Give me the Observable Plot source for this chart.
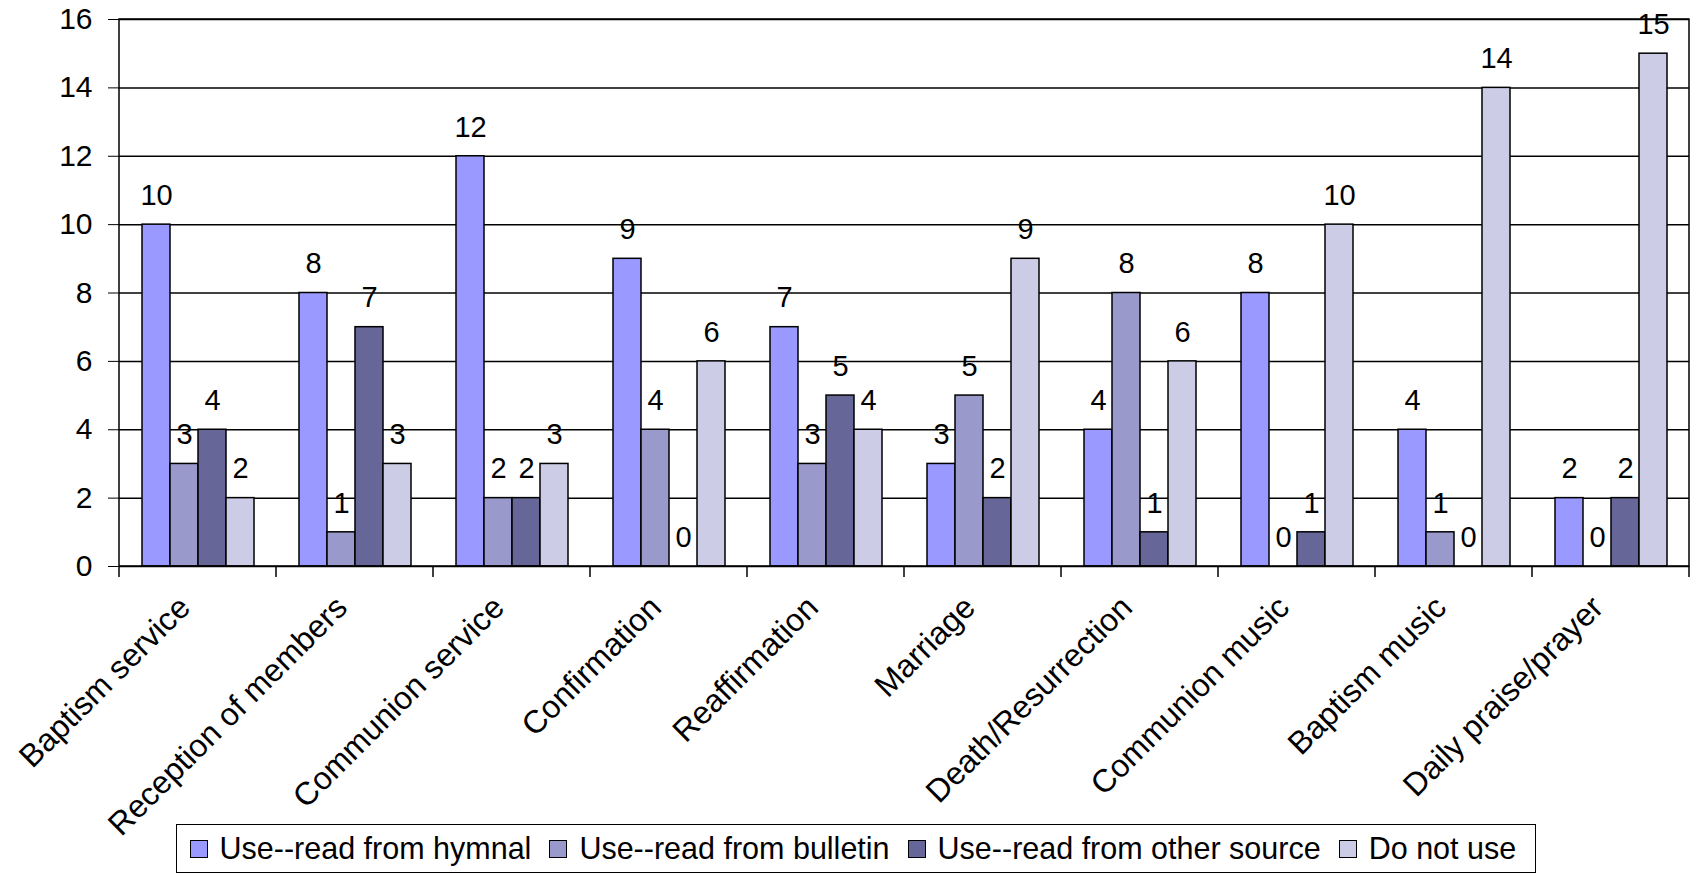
<!DOCTYPE html>
<html><head><meta charset="utf-8">
<script src="https://cdn.jsdelivr.net/npm/d3@7"></script>
<script src="https://cdn.jsdelivr.net/npm/@observablehq/plot@0.6"></script>
<style>
body{margin:0;background:#fff;font-family:"Liberation Sans",Arial,sans-serif;}
#wrap{position:relative;width:1698px;height:876px;overflow:hidden;}
#legend{position:absolute;left:176px;top:824px;width:1360px;height:49px;border:1.5px solid #000;display:flex;align-items:center;padding:0 0 0 12.5px;font-size:30.5px;box-sizing:border-box;background:#fff;color:#000;white-space:nowrap}
.sw{width:18px;height:18px;border:1.5px solid #000;margin-right:12px;box-sizing:border-box;flex:none}
.item{display:flex;align-items:center;margin-right:18px}
</style></head><body><div id="wrap"></div>
<script>
const categories = ["Baptism service","Reception of members","Communion service","Confirmation","Reaffirmation","Marriage","Death/Resurrection","Communion music","Baptism music","Daily praise/prayer"];
const series = ["Use--read from hymnal","Use--read from bulletin","Use--read from other source","Do not use"];
const hymnal   = [10, 8, 12, 9, 7, 3, 4, 8, 4, 2];
const bulletin = [ 3, 1,  2, 4, 3, 5, 8, 0, 1, 0];
const other    = [ 4, 7,  2, 0, 5, 2, 1, 1, 0, 2];
const notUse   = [ 2, 3,  3, 6, 4, 9, 6,10,14,15];
const colors = ["#9999ff","#9999cc","#666699","#cccce6"];
const yTicks = [0,2,4,6,8,10,12,14,16];

const seriesValues = [hymnal, bulletin, other, notUse];
const rows = categories.flatMap((c,i)=> series.map((s,j)=>({category:c, series:s, value:seriesValues[j][i]})));

const plot = Plot.plot({
  width:1698, height:876, marginLeft:115, marginRight:5, marginTop:19, marginBottom:310,
  style:{fontFamily:"Liberation Sans, Arial, sans-serif", fontSize:"30px", color:"#000", background:"#fff", overflow:"visible"},
  fx:{domain:categories, padding:0, label:null, axis:null},
  x:{domain:series, axis:null, paddingInner:0, paddingOuter:0.76},
  y:{domain:[0,16], ticks:yTicks, tickSize:11, tickPadding:16, label:null},
  color:{domain:series, range:colors},
  marks:[
    Plot.ruleY(yTicks, {stroke:"#000", strokeWidth:1.5}),
    Plot.barY(rows, {fx:"category", x:"series", y:"value", fill:"series", stroke:"#000", strokeWidth:1.5}),
    Plot.text(rows, {fx:"category", x:"series", y:"value", text:d=>String(d.value), dy:-29, fontSize:29, fill:"#000"}),
    Plot.text(categories, {fx:d=>d, text:d=>d, frameAnchor:"bottom", rotate:-45, textAnchor:"end", lineAnchor:"bottom", dx:-6, dy:43, fontSize:32, fill:"#000"})
  ]
});

// frame and boundary ticks, using the plot's own scales
const fx = plot.scale("fx"), ys = plot.scale("y");
const bw = fx.bandwidth;
const y0 = ys.apply(0), yTop = ys.apply(16);
const xStart = fx.apply(categories[0]), xEnd = fx.apply(categories[categories.length-1]) + bw;
const svg = d3.select(plot.tagName.toLowerCase()==="svg" ? plot : plot.querySelector("svg"));
const g = svg.append("g").attr("stroke","#000").attr("stroke-width",1.5).attr("fill","none");
g.append("rect").attr("x",xStart).attr("y",yTop).attr("width",xEnd-xStart).attr("height",y0-yTop);
const bounds = categories.map(c=>fx.apply(c)).concat([xEnd]);
g.selectAll("line").data(bounds).join("line")
  .attr("x1",d=>d).attr("x2",d=>d).attr("y1",y0).attr("y2",y0+11);

const wrap = document.getElementById("wrap");
wrap.appendChild(plot);
const legend = document.createElement("div");
legend.id = "legend";
series.forEach((s,i)=>{
  const it = document.createElement("div"); it.className="item";
  const sw = document.createElement("div"); sw.className="sw"; sw.style.background = colors[i];
  const t = document.createElement("span"); t.textContent = s;
  it.appendChild(sw); it.appendChild(t); legend.appendChild(it);
});
wrap.appendChild(legend);
</script></body></html>
